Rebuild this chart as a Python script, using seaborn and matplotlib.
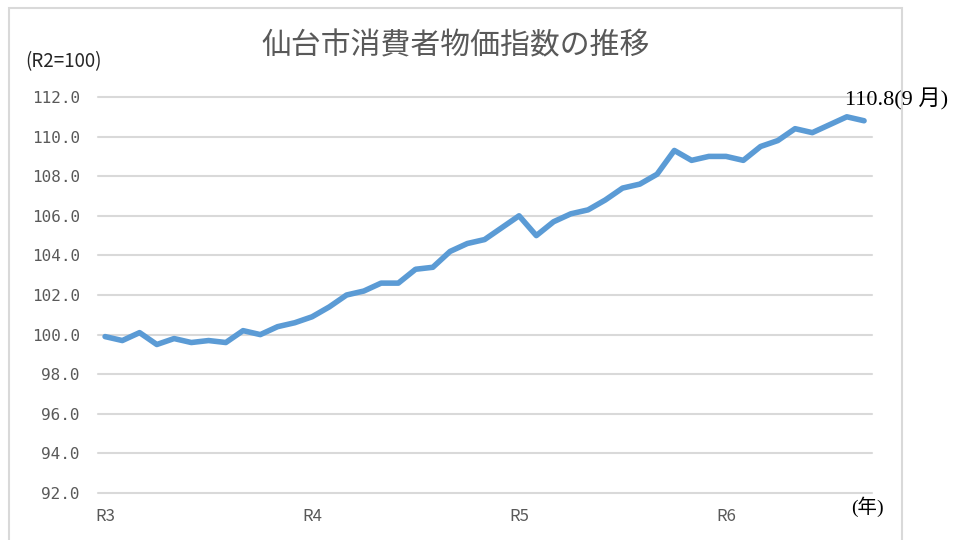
import matplotlib
matplotlib.use("Agg")
import matplotlib.pyplot as plt
from matplotlib.patches import Rectangle
import seaborn as sns
import pandas as pd

# Data: Sendai CPI (R2=100), monthly, Jan R3 .. Sep R6
cpi = [99.9, 99.7, 100.1, 99.5, 99.8, 99.6, 99.7, 99.6, 100.2, 100.0, 100.4, 100.6,
       100.9, 101.4, 102.0, 102.2, 102.6, 102.6, 103.3, 103.4, 104.2, 104.6, 104.8, 105.4,
       106.0, 105.0, 105.7, 106.1, 106.3, 106.8, 107.4, 107.6, 108.1, 109.3, 108.8, 109.0,
       109.0, 108.8, 109.5, 109.8, 110.4, 110.2, 110.6, 111.0, 110.8]
year_labels = ["R3", "R4", "R5", "R6"]
y_ticks = [92.0, 94.0, 96.0, 98.0, 100.0, 102.0, 104.0, 106.0, 108.0, 110.0, 112.0]
title = "仙台市消費者物価指数の推移"
last_label = "110.8(9 月)"

df = pd.DataFrame({"idx": list(range(len(cpi))), "cpi": cpi})

sns.set_theme(style="white")
plt.rcParams["font.family"] = ["Noto Sans CJK JP", "DejaVu Sans"]

W, H = 958, 540
fig = plt.figure(figsize=(W / 100, H / 100), dpi=100)
ax = fig.add_axes([98 / W, 1 - 493 / H, (872 - 98) / W, (493 - 97) / H])

for yt in y_ticks:
    ax.axhline(yt, color="#d9d9d9", lw=1.5, zorder=0, clip_on=False)

sns.lineplot(data=df, x="idx", y="cpi", ax=ax, color="#5B9BD5", lw=4.0,
             solid_joinstyle="round", solid_capstyle="round", clip_on=False)

ax.set_xlim(-0.41, 44.46)
ax.set_ylim(92, 112)
for s in ax.spines.values():
    s.set_visible(False)
ax.set_xlabel("")
ax.set_ylabel("")

ax.set_yticks(y_ticks)
ax.set_yticklabels([f"{v:.1f}" for v in y_ticks], family=["DejaVu Sans Mono"],
                   fontsize=11.5, color="#595959")
ax.tick_params(axis="y", length=0, pad=13)

ax.set_xticks([0, 12, 24, 36])
ax.set_xticklabels(year_labels, fontsize=12, color="#595959")
ax.tick_params(axis="x", length=0, pad=11)

fig.text(456 / W, 1 - 46 / H, title, ha="center", va="center", fontsize=21.5, color="#595959")
fig.text(25 / W, 1 - 62 / H, "(R2=100)", ha="left", va="center", fontsize=13.5, color="#262626")
fig.text(845 / W, 1 - 99 / H, last_label, ha="left", va="center", fontsize=16,
         color="black", family=["Liberation Serif", "Noto Sans CJK JP"])
fig.text(851 / W, 1 - 507 / H, "(年)", ha="left", va="center", fontsize=14,
         color="black", family=["Liberation Serif", "Noto Sans CJK JP"])

fig.add_artist(Rectangle((9 / W, -0.1), (902 - 9) / W, (540 - 8) / H + 0.1,
                         transform=fig.transFigure, fill=False, ec="#d9d9d9", lw=1.5))

fig.savefig("out.png", dpi=100)
